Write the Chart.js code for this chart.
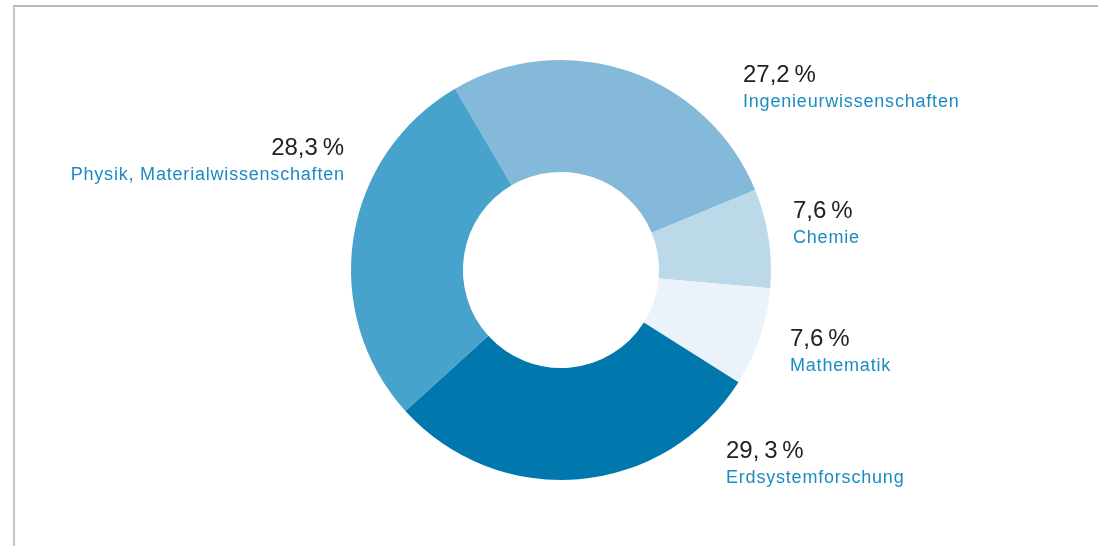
<!DOCTYPE html>
<html lang="de">
<head>
<meta charset="utf-8">
<script src="https://cdn.jsdelivr.net/npm/chart.js@4/dist/chart.umd.min.js"></script>
<style>
  html, body { margin: 0; padding: 0; background: #fff; }
  body { width: 1098px; height: 546px; position: relative; overflow: hidden; }
  #frame {
    position: absolute; left: 13px; top: 5px; right: 0; bottom: 0;
    border-top: 2px solid #b9b9b9; border-left: 2px solid #c4c4c4;
  }
  #wrap { position: absolute; left: 0; top: 0; width: 1098px; height: 546px; }
</style>
</head>
<body>
<div id="frame"></div>
<div id="wrap"><canvas id="chart" width="1098" height="546"></canvas></div>
<script>
// Fachgebiete und ihre Anteile (in Prozent)
const categories = [
  'Ingenieurwissenschaften',
  'Chemie',
  'Mathematik',
  'Erdsystemforschung',
  'Physik, Materialwissenschaften'
];
const shares = [27.2, 7.6, 7.6, 29.3, 28.3];
const sliceColors = ['#85b9da', '#bcd9ea', '#eaf3f9', '#0078ae', '#47a2cc'];

// Label-Anker relativ zum Mittelpunkt des Rings (dx, dy der Prozentzeile, Ausrichtung)
const labelLayout = [
  { dx: 182,  dy: -188, align: 'left'  },
  { dx: 232,  dy: -52,  align: 'left'  },
  { dx: 229,  dy: 76,   align: 'left'  },
  { dx: 165,  dy: 188,  align: 'left'  },
  { dx: -217, dy: -115, align: 'right' }
];

function formatShare(v, i) {
  const s = v.toFixed(1).replace('.', ',');
  // Erdsystemforschung ist mit Abstand nach dem Komma gesetzt
  return (i === 3 ? s.replace(',', ',\u2009') : s) + '\u2009%';
}

const sliceLabels = {
  id: 'sliceLabels',
  afterDatasetsDraw(chart) {
    const ctx = chart.ctx;
    const arc = chart.getDatasetMeta(0).data[0];
    const cx = arc.x, cy = arc.y;
    ctx.save();
    ctx.textBaseline = 'alphabetic';
    categories.forEach((name, i) => {
      const l = labelLayout[i];
      const x = cx + l.dx, y = cy + l.dy;
      ctx.textAlign = l.align;
      ctx.letterSpacing = '0px';
      ctx.fillStyle = '#222222';
      ctx.font = '24px "Liberation Sans", Arial, sans-serif';
      ctx.fillText(formatShare(shares[i], i), x, y);
      ctx.fillStyle = '#1b8bc2';
      ctx.font = '18px "Liberation Sans", Arial, sans-serif';
      ctx.letterSpacing = '0.8px';
      ctx.fillText(name, x + (l.align === 'right' ? 0.8 : 0), y + 25);
    });
    ctx.restore();
  }
};

new Chart(document.getElementById('chart'), {
  type: 'doughnut',
  data: {
    labels: categories,
    datasets: [{
      data: shares,
      backgroundColor: sliceColors,
      borderWidth: 0,
      hoverOffset: 0
    }]
  },
  options: {
    responsive: false,
    animation: false,
    rotation: -30.3,
    cutout: '46.7%',
    layout: { padding: { left: 351, right: 327, top: 60, bottom: 66 } },
    plugins: {
      legend: { display: false },
      tooltip: { enabled: false }
    }
  },
  plugins: [sliceLabels]
});
</script>
</body>
</html>
